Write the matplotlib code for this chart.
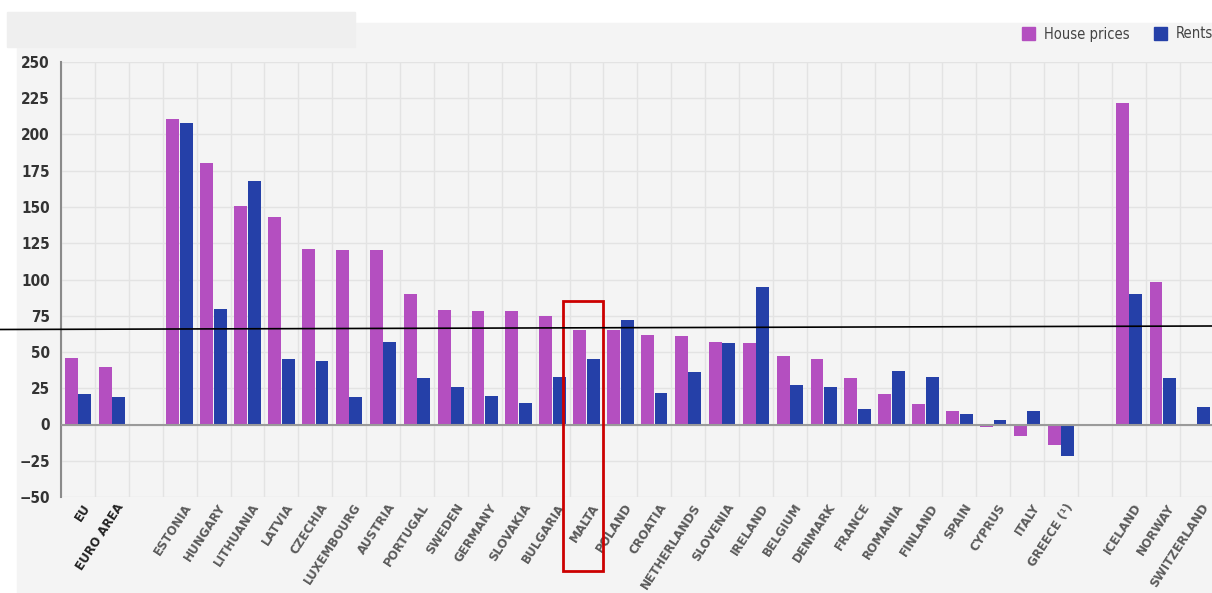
import matplotlib
matplotlib.use("Agg")
import matplotlib.pyplot as plt
import matplotlib.transforms as mtransforms
from matplotlib.patches import Rectangle, Patch
from matplotlib.lines import Line2D
import numpy as np

plt.rcParams["font.family"] = ["DejaVu Sans"]
plt.rcParams["font.stretch"] = "condensed"

# Change in house prices and rents, 2010 to latest (%)
countries = [
    "EU", "EURO AREA", "",
    "ESTONIA", "HUNGARY", "LITHUANIA", "LATVIA", "CZECHIA", "LUXEMBOURG",
    "AUSTRIA", "PORTUGAL", "SWEDEN", "GERMANY", "SLOVAKIA", "BULGARIA",
    "MALTA", "POLAND", "CROATIA", "NETHERLANDS", "SLOVENIA", "IRELAND",
    "BELGIUM", "DENMARK", "FRANCE", "ROMANIA", "FINLAND", "SPAIN",
    "CYPRUS", "ITALY", "GREECE (¹)", "",
    "ICELAND", "NORWAY", "SWITZERLAND",
]
house_prices = [
    46, 40, np.nan,
    211, 180, 151, 143, 121, 120,
    120, 90, 79, 78, 78, 75,
    65, 65, 62, 61, 57, 56,
    47, 45, 32, 21, 14, 9,
    -2, -8, -14, np.nan,
    222, 98, np.nan,
]
rents = [
    21, 19, np.nan,
    208, 80, 168, 45, 44, 19,
    57, 32, 26, 20, 15, 33,
    45, 72, 22, 36, 56, 95,
    27, 26, 11, 37, 33, 7,
    3, 9, -22, np.nan,
    90, 32, 12,
]
bold_labels = {"EU", "EURO AREA"}
highlight = "MALTA"

PINK = "#b44fc0"
BLUE = "#2540a8"

fig = plt.figure(figsize=(12.12, 5.93), dpi=100, facecolor="white")

# light panel behind the chart
fig.patches.append(Rectangle((17 / 1212, 0), 1, 1 - 23 / 593,
                             transform=fig.transFigure, color="#f4f4f4", zorder=-3))
fig.patches.append(Rectangle((7 / 1212, 1 - 47 / 593), 348 / 1212, 35 / 593,
                             transform=fig.transFigure, color="#efefef", zorder=-2))

ax = fig.add_axes([61 / 1212, 96 / 593, 34 * 33.9 / 1212, 435 / 593])
ax.set_facecolor("none")

x = np.arange(len(countries))
ax.bar(x - 0.2, house_prices, width=0.38, color=PINK, zorder=3, label="House prices")
ax.bar(x + 0.2, rents, width=0.38, color=BLUE, zorder=3, label="Rents")

ax.set_xlim(-0.5, len(countries) - 0.5)
ax.set_ylim(-50, 250)
ax.set_yticks(np.arange(-50, 251, 25))
ax.tick_params(axis="y", length=0, labelsize=11, labelcolor="#333333", pad=8)
for lbl in ax.get_yticklabels():
    lbl.set_fontweight("bold")

for yv in np.arange(-50, 251, 25):
    ax.axhline(yv, color="#e3e3e3", linewidth=1, zorder=0)
for xv in np.arange(-0.5, len(countries), 1):
    ax.axvline(xv, color="#e3e3e3", linewidth=1, zorder=0)
ax.axhline(0, color="#9a9a9a", linewidth=1.5, zorder=4)

ax.set_xticks(x)
ax.set_xticklabels(countries, rotation=57, ha="right", va="top",
                   rotation_mode="anchor", fontsize=9.5, color="#5a5a5a",
                   fontweight="bold")
ax.tick_params(axis="x", length=0, pad=3)
shift = mtransforms.ScaledTranslation(4 / 100, 0, fig.dpi_scale_trans)
for lbl in ax.get_xticklabels():
    lbl.set_transform(lbl.get_transform() + shift)
    if lbl.get_text() in bold_labels:
        lbl.set_color("#222222")

for side in ("top", "right", "bottom"):
    ax.spines[side].set_visible(False)
ax.spines["left"].set_color("#8a8a8a")
ax.spines["left"].set_linewidth(1.5)

# highlight box around Malta
mi = countries.index(highlight)
ax.add_patch(Rectangle((mi - 0.69, -101), 1.19, 186, fill=False,
                       edgecolor="#cc0000", linewidth=2, zorder=6, clip_on=False))

# reference line drawn across the figure
fig.add_artist(Line2D([0, 1], [1 - 329.5 / 593, 1 - 326 / 593],
                      transform=fig.transFigure, color="black", linewidth=1.2))

handles = [Patch(color=PINK, label="House prices"), Patch(color=BLUE, label="Rents")]
fig.legend(handles=handles, loc="center right", bbox_to_anchor=(1.012, 1 - 34 / 593),
           ncol=2, frameon=False, fontsize=10.5, handlelength=0.9, handleheight=0.9,
           handletextpad=0.6, columnspacing=1.7, labelcolor="#444444")

fig.savefig("out.png", dpi=100, facecolor="white")
